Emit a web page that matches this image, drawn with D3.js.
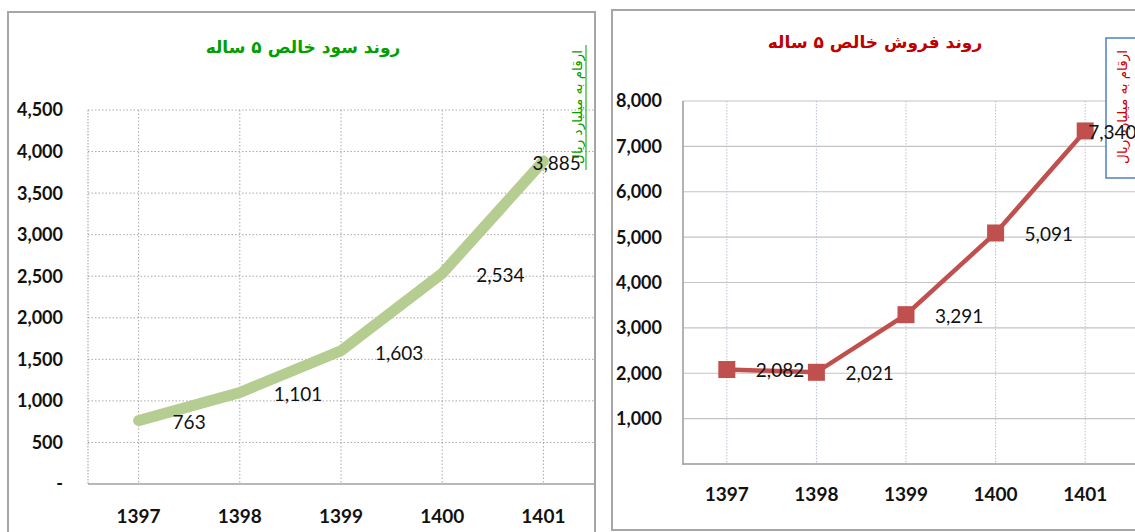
<!DOCTYPE html>
<html>
<head>
<meta charset="utf-8">
<script src="https://cdn.jsdelivr.net/npm/d3@7"></script>
<style>
  body { margin: 0; background: #fff; }
  svg { display: block; }
</style>
</head>
<body>
<svg id="chart" width="1135" height="532"></svg>
<script>
// سالها
const years = ["1397", "1398", "1399", "1400", "1401"];
// سود خالص (میلیارد ریال)
const profitValues = [763, 1101, 1603, 2534, 3885];
const profitTicks = [0, 500, 1000, 1500, 2000, 2500, 3000, 3500, 4000, 4500];
// فروش خالص (میلیارد ریال)
const salesValues = [2082, 2021, 3291, 5091, 7340];
const salesTicks = [1000, 2000, 3000, 4000, 5000, 6000, 7000, 8000];

const profitTitle = "روند  سود خالص ۵ ساله";
const salesTitle = "روند فروش خالص ۵ ساله";
const unitLabel = "ارقام به میلیارد ریال";

const svg = d3.select("#chart");
const fmt = d3.format(",");
const latin = "Lato, 'Open Sans', sans-serif";
const persian = "'DejaVu Sans', sans-serif";

//---------------- نمودار سود ----------------
{
  const g = svg.append("g");
  g.append("rect")
    .attr("x", 8).attr("y", 12).attr("width", 587).attr("height", 560)
    .attr("fill", "#fff").attr("stroke", "#a6a6a6").attr("stroke-width", 2);

  const x = d3.scaleBand().domain(years).range([88, 594]);
  const y = d3.scaleLinear().domain([0, 4500]).range([484, 110]);
  const cx = d => x(d) + x.bandwidth() / 2;

  // خطوط راهنما
  g.selectAll("line.hgrid")
    .data(profitTicks.filter(d => d > 0))
    .enter().append("line")
    .attr("x1", 88).attr("x2", 594)
    .attr("y1", d => y(d)).attr("y2", d => y(d))
    .attr("stroke", "#a8a8a8").attr("stroke-dasharray", "1.5,2");

  g.selectAll("line.vgrid")
    .data(years)
    .enter().append("line")
    .attr("x1", d => cx(d)).attr("x2", d => cx(d))
    .attr("y1", y(4500)).attr("y2", y(0))
    .attr("stroke", "#a8a8a8").attr("stroke-dasharray", "1.5,2");

  g.append("line")
    .attr("x1", 88).attr("x2", 88).attr("y1", y(4500)).attr("y2", y(0))
    .attr("stroke", "#999").attr("stroke-dasharray", "1.5,1.5");

  g.append("line")
    .attr("x1", 88).attr("x2", 596).attr("y1", y(0)).attr("y2", y(0))
    .attr("stroke", "#a0a0a0").attr("stroke-width", 1.5);

  // برچسب محورها
  g.selectAll("text.ytick")
    .data(profitTicks)
    .enter().append("text")
    .attr("x", 63).attr("y", d => y(d))
    .attr("dy", "0.36em")
    .attr("text-anchor", "end")
    .attr("font-family", latin).attr("font-weight", "bold").attr("font-size", 18)
    .attr("fill", "#111")
    .text(d => d === 0 ? "-" : fmt(d));

  g.selectAll("text.xtick")
    .data(years)
    .enter().append("text")
    .attr("x", d => cx(d)).attr("y", 516)
    .attr("dy", "0.36em")
    .attr("text-anchor", "middle")
    .attr("font-family", latin).attr("font-weight", "bold").attr("font-size", 19)
    .attr("fill", "#111")
    .text(d => d);

  // خط داده
  const line = d3.line().x((d, i) => cx(years[i])).y(d => y(d));
  g.append("path")
    .datum(profitValues)
    .attr("d", line)
    .attr("fill", "none")
    .attr("stroke", "#b6cd92").attr("stroke-width", 11)
    .attr("stroke-linecap", "round").attr("stroke-linejoin", "miter");

  // برچسب داده
  g.selectAll("text.label")
    .data(profitValues)
    .enter().append("text")
    .attr("x", (d, i) => cx(years[i]) + (i === profitValues.length - 1 ? -11 : 34))
    .attr("y", d => y(d) + 2)
    .attr("dy", "0.36em")
    .attr("font-family", latin).attr("font-size", 19)
    .attr("fill", "#111")
    .text(d => fmt(d));

  // عنوان
  g.append("text")
    .attr("x", 303).attr("y", 47).attr("dy", "0.36em")
    .attr("text-anchor", "middle")
    .attr("font-family", persian).attr("font-weight", "bold").attr("font-size", 17)
    .attr("fill", "#00a000")
    .text(profitTitle);

  // واحد
  g.append("text")
    .attr("transform", "translate(577,107) rotate(-90)")
    .attr("text-anchor", "middle").attr("dy", "0.36em")
    .attr("font-family", persian).attr("font-size", 13.5)
    .attr("fill", "#00a000")
    .text(unitLabel);
  g.append("line")
    .attr("x1", 586).attr("x2", 586).attr("y1", 45).attr("y2", 170)
    .attr("stroke", "#00a000").attr("stroke-width", 1);
}

//---------------- نمودار فروش ----------------
{
  const g = svg.append("g");
  g.append("rect")
    .attr("x", 612).attr("y", 10).attr("width", 560).attr("height", 520)
    .attr("fill", "#fff").attr("stroke", "#a6a6a6").attr("stroke-width", 2);

  const x = d3.scaleBand().domain(years).range([682, 1130]);
  const y = d3.scaleLinear().domain([0, 8000]).range([464, 101]);
  const cx = d => x(d) + x.bandwidth() / 2;

  g.selectAll("line.vgrid")
    .data(years)
    .enter().append("line")
    .attr("x1", d => cx(d)).attr("x2", d => cx(d))
    .attr("y1", y(8000)).attr("y2", y(0))
    .attr("stroke", "#b8c2d6").attr("stroke-dasharray", "1.5,1.5");

  g.selectAll("line.hgrid")
    .data(salesTicks)
    .enter().append("line")
    .attr("x1", 683).attr("x2", 1135)
    .attr("y1", d => y(d)).attr("y2", d => y(d))
    .attr("stroke", "#c4c4c4").attr("stroke-width", 1.2);

  g.append("line")
    .attr("x1", 683).attr("x2", 683).attr("y1", y(8000)).attr("y2", y(0) + 1)
    .attr("stroke", "#9a9a9a").attr("stroke-width", 1.5);
  g.append("line")
    .attr("x1", 683).attr("x2", 1135).attr("y1", y(0)).attr("y2", y(0))
    .attr("stroke", "#9a9a9a").attr("stroke-width", 1.5);

  g.selectAll("text.ytick")
    .data(salesTicks)
    .enter().append("text")
    .attr("x", 662).attr("y", d => y(d))
    .attr("dy", "0.36em")
    .attr("text-anchor", "end")
    .attr("font-family", latin).attr("font-weight", "bold").attr("font-size", 18)
    .attr("fill", "#111")
    .text(d => fmt(d));

  g.selectAll("text.xtick")
    .data(years)
    .enter().append("text")
    .attr("x", d => cx(d)).attr("y", 494)
    .attr("dy", "0.36em")
    .attr("text-anchor", "middle")
    .attr("font-family", latin).attr("font-weight", "bold").attr("font-size", 19)
    .attr("fill", "#111")
    .text(d => d);

  const line = d3.line().x((d, i) => cx(years[i])).y(d => y(d));
  g.append("path")
    .datum(salesValues)
    .attr("d", line)
    .attr("fill", "none")
    .attr("stroke", "#c0504d").attr("stroke-width", 4.5);

  const ms = 17;
  g.selectAll("rect.marker")
    .data(salesValues)
    .enter().append("rect")
    .attr("x", (d, i) => cx(years[i]) - ms / 2)
    .attr("y", d => y(d) - ms / 2)
    .attr("width", ms).attr("height", ms)
    .attr("fill", "#c0504d");

  // جعبه واحد
  g.append("rect")
    .attr("x", 1106).attr("y", 38).attr("width", 40).attr("height", 140)
    .attr("fill", "#fff").attr("stroke", "#4f81bd").attr("stroke-width", 1.5);
  g.append("text")
    .attr("transform", "translate(1122,107) rotate(-90)")
    .attr("text-anchor", "middle").attr("dy", "0.36em")
    .attr("font-family", persian).attr("font-size", 13.5)
    .attr("fill", "#d00000")
    .text(unitLabel);

  g.selectAll("text.label")
    .data(salesValues)
    .enter().append("text")
    .attr("x", (d, i) => cx(years[i]) + (i === salesValues.length - 1 ? 3 : 29))
    .attr("y", d => y(d) + 1)
    .attr("dy", "0.36em")
    .attr("font-family", latin).attr("font-size", 19)
    .attr("fill", "#111")
    .text(d => fmt(d));

  g.append("text")
    .attr("x", 875).attr("y", 42).attr("dy", "0.36em")
    .attr("text-anchor", "middle")
    .attr("font-family", persian).attr("font-weight", "bold").attr("font-size", 17)
    .attr("fill", "#c00000")
    .text(salesTitle);
}
</script>
</body>
</html>
